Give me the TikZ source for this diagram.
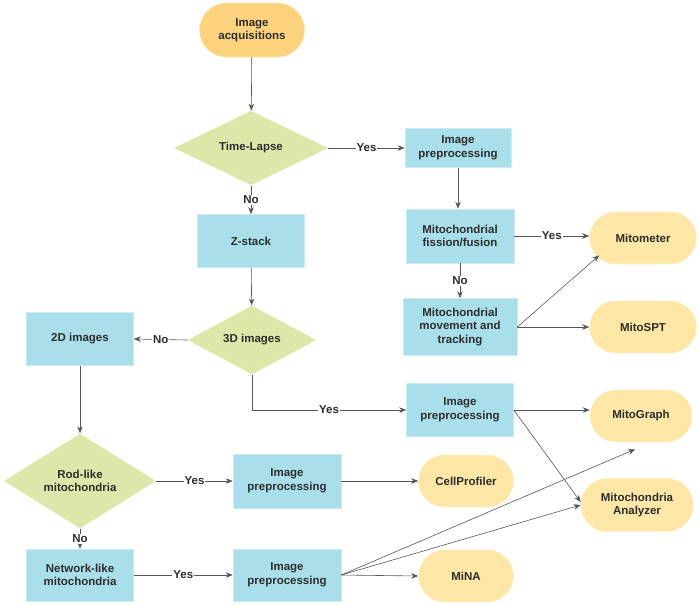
\documentclass[tikz,border=0pt]{standalone}
\usepackage{fontspec}
\setmainfont{Liberation Sans}
\usetikzlibrary{shapes.geometric, arrows.meta}
\definecolor{boxblue}{HTML}{A8DFEA}
\definecolor{dgreen}{HTML}{DEE6A9}
\definecolor{startorange}{HTML}{FDD27D}
\definecolor{toolyellow}{HTML}{FDE6A6}
\definecolor{txt}{HTML}{2E2E2E}
\definecolor{arr}{HTML}{555555}
\tikzset{
    every node/.style={font=\bfseries\fontsize{11.5}{13.5}\selectfont, text=txt},
    process/.style={rectangle, fill=boxblue, draw=boxblue!60!white, line width=0.6pt, align=center, inner sep=0pt},
    decision/.style={diamond, fill=dgreen, draw=dgreen!60!white, line width=0.6pt, align=center, inner sep=0pt},
    tool/.style={rectangle, rounded corners=26pt, fill=toolyellow, draw=toolyellow!60!white, line width=0.6pt, align=center, inner sep=0pt, minimum height=52pt},
    link/.style={draw=arr, line width=0.6pt, -{Stealth[length=7pt, width=5.5pt]}},
    lbl/.style={fill=white, inner sep=1pt}
}
\begin{document}
\begin{tikzpicture}[x=1pt, y=-1pt]
    \useasboundingbox (0, 0) rectangle (699, 605);
    % start
    \node[tool, fill=startorange, draw=startorange!60!white, minimum width=105pt, minimum height=54pt, rounded corners=27pt] (acq) at (252, 30) {Image\\acquisitions};
    % left column
    \node[decision, minimum width=154pt, minimum height=63pt] (tl) at (251, 148) {Time-Lapse};
    \node[process, minimum width=107pt, minimum height=53pt] (zs) at (251, 241) {Z-stack};
    \node[decision, minimum width=128pt, minimum height=69pt] (d3) at (252, 340) {3D images};
    \node[process, minimum width=107pt, minimum height=53pt] (d2) at (80, 339) {2D images};
    \node[decision, minimum width=152pt, minimum height=76pt] (rod) at (80, 481) {Rod-like\\mitochondria};
    \node[process, minimum width=107pt, minimum height=52pt] (net) at (80, 575) {Network-like\\mitochondria};
    \node[process, minimum width=108pt, minimum height=54pt] (pre3) at (287, 481) {Image\\preprocessing};
    \node[process, minimum width=108pt, minimum height=52pt] (pre4) at (287, 575) {Image\\preprocessing};
    % middle column
    \node[process, minimum width=106pt, minimum height=39pt] (pre1) at (458, 148) {Image\\preprocessing};
    \node[process, minimum width=108pt, minimum height=54pt] (fis) at (460, 236) {Mitochondrial\\fission/fusion};
    \node[process, minimum width=114pt, minimum height=57pt] (mov) at (460, 327) {Mitochondrial\\movement and\\tracking};
    \node[process, minimum width=107pt, minimum height=53pt] (pre2) at (460, 410) {Image\\preprocessing};
    \node[tool, minimum width=95pt] (cp) at (466, 481) {CellProfiler};
    \node[tool, minimum width=95pt] (mina) at (466, 576) {MiNA};
    % tools on the right
    \node[tool, minimum width=107pt] (mmt) at (643, 238) {Mitometer};
    \node[tool, minimum width=107pt] (spt) at (643, 327) {MitoSPT};
    \node[tool, minimum width=102pt] (mg) at (641, 416) {MitoGraph};
    \node[tool, minimum width=112pt, minimum height=53pt] (ma) at (637, 505) {Mitochondria\\Analyzer};
    % connectors
    \draw[link] (acq) -- (tl);
    \draw[link] (tl.east) -- node[lbl] {Yes} (pre1.west);
    \draw[link] (tl.south) -- node[lbl] {No} (zs.north);
    \draw[link] (pre1.south) -- (pre1.south |- fis.north);
    \draw[link] (fis.east) -- node[lbl] {Yes} (fis.east -| mmt.west);
    \draw[link] (fis.south) -- node[lbl] {No} (mov.north);
    \draw[link] (mov.east) -- ([xshift=10pt, yshift=9pt]mmt.south west);
    \draw[link] (mov.east) -- (spt.west);
    \draw[link] (zs) -- (d3);
    \draw[link] (d3.west) -- node[lbl] {No} (d2.east);
    \coordinate (bend) at (d3.south |- pre2.west);
    \draw[link] (d3.south) -- (bend) -- node[lbl] {Yes} (pre2.west);
    \draw[link] (pre2.east) -- (pre2.east -| mg.west);
    \draw[link] (pre2.east) -- ([yshift=3pt]ma.west);
    \draw[link] (d2) -- (rod);
    \draw[link] (rod.east) -- node[lbl] {Yes} (pre3.west);
    \draw[link] (rod.south) -- node[lbl] {No} (net.north);
    \draw[link] (pre3.east) -- (cp.west);
    \draw[link] (net.east) -- node[lbl] {Yes} (pre4.west);
    \draw[link] (pre4.east) -- (mina.west);
    \draw[link] (pre4.east) -- (ma.west);
    \draw[link] (pre4.east) -- ([xshift=-6pt, yshift=-7pt]mg.south);
\end{tikzpicture}
\end{document}
